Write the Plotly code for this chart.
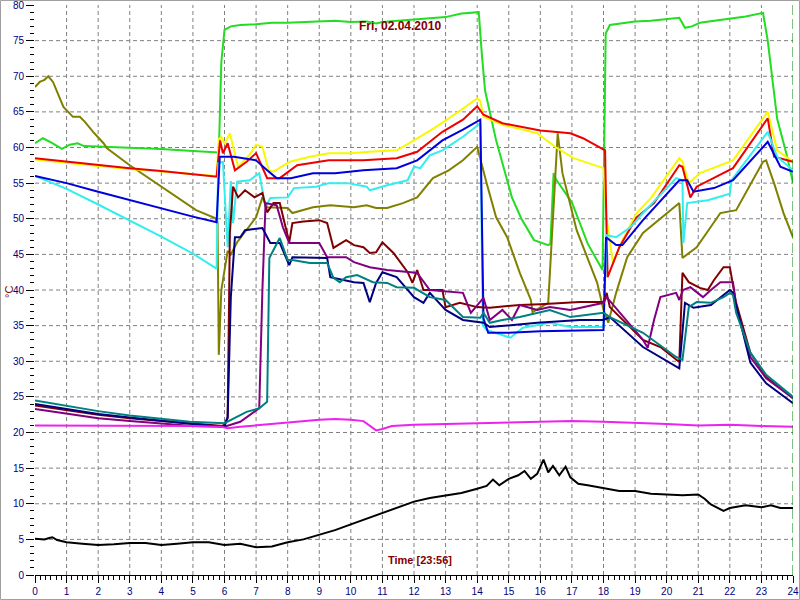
import plotly.graph_objects as go

# ---------------- data (hours, °C) ----------------
green_t = [0, 0.25, 0.55, 0.85, 1.1, 1.35, 1.55, 2.3, 3, 4, 5, 5.82, 5.9, 6.0, 6.2, 6.5, 7, 7.5, 8, 8.5,
           9, 9.5, 10, 10.5, 10.8, 11, 11.5, 12, 12.5, 13, 13.5, 13.9, 14.05, 14.15, 14.25, 14.6, 15.1, 15.4, 15.8, 16.25,
           16.32, 16.42, 16.5, 17.0, 17.5, 17.97, 18.07, 18.2, 18.6, 19, 19.5, 20, 20.4, 20.58, 20.8, 21.05, 21.5, 22.1, 22.5, 23.05,
           23.2, 23.5, 23.8, 24]
green_v = [60.6, 61.3, 60.6, 59.8, 60.4, 60.6, 60.2, 60.1, 60, 59.8, 59.5, 59.3, 72, 76.5, 77, 77.2, 77.3, 77.5, 77.5, 77.6,
           77.8, 77.8, 77.6, 77.7, 77.4, 77.6, 77.8, 78, 78.1, 78.3, 78.8, 78.9, 79, 73, 68, 61, 53, 50, 47, 46.3,
           46.5, 56.4, 55.5, 52.3, 46.5, 42.8, 76, 77.2, 77.5, 77.7, 77.8, 78, 78.2, 76.8, 77, 77.5, 77.8, 78.2, 78.4, 78.9,
           75, 64, 59, 55]

olive_t = [0, 0.15, 0.3, 0.42, 0.57, 0.73, 0.9, 1.2, 1.42, 1.58, 1.84, 2.17, 2.28, 3.0, 4.0, 5.1, 5.7, 5.78, 5.82, 5.9,
           6.1, 6.2, 6.4, 7.0, 7.2, 7.35, 8.0, 8.15, 8.8, 9.35, 10.1, 10.5, 10.8, 11.15, 11.65, 12.1, 12.6, 13.1, 13.55, 14.0,
           14.3, 14.6, 14.95, 15.35, 15.7, 15.75, 16.25, 16.55, 16.7, 17.15, 17.8, 18.0, 18.15, 18.4, 18.75, 19.25, 20.4, 20.5, 20.95, 21.7,
           22.2, 23.05, 23.15, 23.4, 23.7, 24]
olive_v = [68.5, 69.2, 69.5, 70, 69.2, 67.4, 65.7, 64.3, 64.3, 63.6, 62.2, 60.6, 59.9, 57.5, 54.5, 51.2, 50.1, 49.5, 30.9, 40,
           45.5, 45, 46.7, 50.2, 53, 51.6, 51.5, 50.8, 51.6, 51.9, 51.6, 51.9, 51.5, 51.5, 52.2, 53, 55.7, 56.8, 58.2, 60.1,
           55, 50.2, 47.4, 42.4, 38.6, 36.9, 38.2, 62, 56.4, 48.4, 41, 37.2, 35.4, 39.6, 44.6, 48, 52.2, 44.5, 46, 50.8,
           51.2, 58, 58.2, 55, 50.8, 47.4]

yellow_t = [0, 1, 2, 3, 4, 5, 5.75, 5.82, 5.9, 6.0, 6.17, 6.43, 6.8, 7.0, 7.2, 7.4, 7.55, 8.07, 8.7, 9.3,
            10, 10.6, 11.45, 12, 12.7, 13.5, 14.0, 14.1, 14.2, 14.8, 15.9, 16.5, 17.05, 18.0, 18.1, 18.3, 18.6, 19.05, 19.5, 20.4,
            20.5, 20.7, 21.05, 22.1, 23.2, 23.5, 24]
yellow_v = [58.3, 57.8, 57.4, 57, 56.6, 56.3, 56, 61.2, 61.5, 60.5, 62, 57.3, 59, 60.4, 60.1, 56.8, 56.6, 58, 58.7, 59.2,
            59.2, 59.4, 59.6, 61, 62.9, 65.3, 66.9, 66.5, 64.3, 63.2, 62, 60, 58.5, 57.1, 50, 43.8, 47, 50.8, 52.9, 58.5,
            58, 55, 56.4, 58.2, 65, 59.6, 58]

red_t = [0, 1, 2, 3, 4, 5, 5.75, 5.86, 5.95, 6.1, 6.33, 6.7, 7.0, 7.35, 7.75, 8.3, 9.3, 10.4, 11.45, 12.1,
         12.9, 13.55, 14.0, 14.2, 14.8, 16.0, 16.95, 17.35, 18.05, 18.09, 18.13, 18.5, 19.05, 19.6, 20.4, 20.5, 20.75, 20.95, 22.1, 23.2,
         23.4, 24]
red_v = [58.5, 58, 57.5, 57.1, 56.7, 56.3, 55.9, 61, 59.2, 60.6, 56.8, 58, 59.2, 55.7, 55.7, 57.5, 58.2, 58.2, 58.5, 59.4,
         62.2, 63.9, 65.8, 64.6, 63.4, 62.4, 62, 61.3, 59.6, 50, 41.8, 46, 50.2, 52.2, 57.5, 57.3, 53, 54.5, 57.1, 64.1,
         58.7, 58]

blue_t = [0, 1, 2, 3, 4, 5, 5.75, 5.85, 6.3, 7.0, 7.35, 7.65, 8.1, 8.8, 9.5, 10.4, 11.45, 12.1, 12.9, 13.55,
          14.1, 14.2, 14.35, 15, 16, 17, 18.0, 18.08, 18.4, 18.6, 19.25, 20.4, 20.65, 20.85, 21.5, 22.1, 23.2, 23.6, 24]
blue_v = [56, 55, 53.8, 52.6, 51.4, 50.3, 49.5, 58.7, 58.7, 58.2, 56.8, 55.7, 55.7, 56.4, 56.4, 56.8, 57.1, 58.2, 61, 62.5,
          63.9, 36, 34, 34, 34.2, 34.3, 34.4, 47.4, 46.3, 46.3, 49.8, 55.4, 55.4, 53.8, 54.3, 55.4, 60.8, 57.3, 56.6]

cyan_t = [0, 1, 2, 3, 4, 5, 5.75, 5.8, 5.95, 6.1, 6.2, 6.27, 6.4, 6.8, 7.1, 7.3, 7.45, 8.0, 8.2, 8.9,
          9.3, 9.9, 10.5, 10.6, 11.15, 11.8, 12.0, 12.2, 12.5, 12.9, 13.55, 14.1, 14.18, 14.3, 15.05, 15.45, 16.3, 16.95, 18.0, 18.1,
          18.4, 18.85, 19.25, 20.3, 20.5, 20.53, 20.65, 21.3, 22.0, 22.05, 23.2, 23.5, 24]
cyan_v = [56, 54.2, 52, 49.8, 47.5, 45.1, 43, 57.8, 58, 46, 55.3, 49.4, 55.2, 55.4, 56.4, 51.6, 52.9, 53, 54.3, 54.5,
          55, 55, 54.5, 54, 54.7, 55.4, 57.3, 57.1, 58.9, 59.6, 61.5, 63.4, 35, 34.4, 33.3, 34.7, 35.4, 34.8, 34.8, 47.7,
          47.4, 48.8, 50.8, 55.7, 55.4, 46.6, 52.2, 52.6, 53.5, 55.4, 62.2, 58.7, 56.8]

maroon_t = [0, 1, 2, 3, 4, 5, 5.95, 6.1, 6.17, 6.27, 6.43, 6.65, 6.95, 7.2, 7.35, 7.55, 7.75, 8.05, 8.15, 8.5,
            9.0, 9.25, 9.45, 9.85, 10.1, 10.4, 10.6, 10.8, 11.0, 11.35, 11.8, 11.95, 12.1, 12.3, 12.9, 13.0, 13.45, 14.0, 14.4, 14.8,
            15.35, 16.0, 16.95, 17.25, 18.0, 18.1, 18.2, 19.25, 19.8, 20.4, 20.5, 20.7, 21.05, 21.3, 21.5, 21.8, 22.0, 22.1, 22.2, 22.65,
            23.15, 24]
maroon_v = [23.8, 23.1, 22.5, 22.0, 21.6, 21.3, 20.9, 22, 48, 54.5, 53, 54, 53, 53.6, 50.9, 52.2, 52.2, 46.7, 49.4, 49.6,
            49.8, 49.4, 45.9, 47, 46.3, 46, 45.2, 45.3, 46.7, 45.2, 42.5, 41, 42.8, 40, 40, 37.6, 38.2, 37.6, 37.5, 37.7,
            37.9, 38, 38.2, 38.3, 38.3, 39.6, 37.6, 33, 32, 29.9, 42.4, 41.1, 40.3, 40, 41.4, 43.2, 43.2, 40.4, 38.2, 31.2,
            27.8, 24.8]

purple_t = [0, 1, 2, 3, 4, 5, 6.0, 6.5, 7.1, 7.2, 7.3, 7.65, 7.85, 8.05, 9.0, 9.25, 9.85, 10.1, 10.6, 11.15,
            11.9, 12.1, 12.5, 13.15, 13.55, 13.8, 14.2, 14.4, 14.8, 15.1, 15.35, 15.9, 16.3, 16.95, 18.0, 18.1, 19.25, 19.4, 19.6, 19.8,
            20.3, 20.4, 20.52, 20.75, 21.15, 21.4, 21.7, 22.1, 22.2, 22.65, 23.15, 24]
purple_v = [23.3, 22.6, 22.0, 21.6, 21.2, 20.9, 20.8, 21.5, 23.4, 40, 52.2, 51.9, 48.8, 46.6, 46.6, 44.6, 44.6, 43.9, 43.2, 42.8,
            42.5, 42.4, 40, 39.7, 39.6, 36.8, 38.9, 35.8, 37.2, 35.8, 37.9, 37.2, 37.6, 37.2, 38.2, 39, 33, 31.9, 35.8, 39,
            39.6, 38.6, 40, 40.4, 39, 40, 41.1, 41.1, 37.6, 30.6, 27.6, 24.8]

navy_t = [0, 1, 2, 3, 4, 5, 6.0, 6.1, 6.2, 6.33, 6.5, 6.65, 7.2, 7.45, 7.75, 8.05, 8.15, 8.8, 9.25, 9.35,
          10.1, 10.4, 10.6, 10.8, 11.0, 11.45, 12.0, 12.3, 12.5, 13.0, 13.55, 14.2, 14.4, 15.9, 17.25, 18.0, 18.2, 19.25, 20.4, 20.58,
          20.85, 21.4, 21.7, 22.0, 22.1, 22.65, 23.15, 24]
navy_v = [24, 23.3, 22.6, 22.1, 21.6, 21.2, 20.8, 22.2, 39, 47.4, 47.4, 48.4, 48.7, 46.6, 46.6, 43.5, 44.6, 44.6, 44.5, 41.8,
          41.1, 41, 38.3, 41, 42.5, 41.8, 39, 38.2, 39.6, 37.2, 35.8, 35.4, 34.8, 35.4, 35.8, 35.8, 36.2, 32, 29, 38.2,
          37.5, 37.9, 39, 40, 39.6, 29.8, 26.9, 24.1]

teal_t = [0, 1, 2, 3, 4, 4.9, 6.0, 6.4, 6.7, 7.1, 7.25, 7.35, 7.42, 7.75, 8.0, 8.15, 8.7, 9.25, 9.45, 9.65,
          9.85, 10.2, 10.7, 11.15, 11.45, 12.0, 12.5, 13.0, 13.55, 14.1, 14.2, 14.4, 14.8, 15.35, 16.3, 16.95, 18.0, 18.2, 19.25, 20.3,
          20.5, 20.7, 20.95, 21.4, 21.8, 22.0, 22.1, 22.2, 22.65, 23.15, 24]
teal_v = [24.5, 23.7, 23.0, 22.4, 21.9, 21.5, 21.3, 22.2, 22.9, 23.4, 23.9, 24.3, 44.5, 47.3, 44.2, 44.2, 43.8, 43.8, 41.7, 41.1,
          41.8, 42.1, 41.1, 41, 40.4, 40.3, 39, 38.6, 36.2, 36.1, 36.8, 35.4, 35.8, 36.2, 37.2, 36.2, 36.8, 36.2, 34, 30.6,
          30.2, 37.6, 38.3, 38.2, 39, 39.6, 39.3, 36.8, 31.2, 28.1, 25]

magenta_t = [0, 1, 2, 3, 4, 5, 5.9, 6.1, 6.5, 7, 7.5, 8, 8.5, 9, 9.5, 10, 10.4, 10.6, 10.8, 11.0,
             11.3, 12, 13, 14, 15, 16, 17, 18, 19, 20, 21, 22, 23, 24]
magenta_v = [21, 21, 21, 21, 21, 20.9, 20.8, 20.6, 20.8, 21.0, 21.2, 21.5, 21.7, 21.8, 21.9, 21.8, 21.6, 20.9, 20.3, 20.5,
             20.9, 21.1, 21.2, 21.3, 21.4, 21.5, 21.6, 21.5, 21.4, 21.2, 21.0, 21.1, 20.9, 20.8]

black_t = [0, 0.3, 0.45, 0.55, 0.7, 1.0, 1.5, 2.0, 2.5, 3.0, 3.5, 4.0, 4.5, 5.0, 5.5, 6.0, 6.5, 7.0, 7.5, 8.0,
           8.5, 9.0, 9.5, 10.0, 10.5, 11.0, 11.5, 12.0, 12.5, 13.0, 13.5, 14.0, 14.3, 14.5, 14.7, 15.0, 15.3, 15.5, 15.7, 15.9,
           16.1, 16.25, 16.4, 16.6, 16.8, 16.95, 17.2, 17.5, 18.0, 18.5, 19.0, 19.5, 20.0, 20.5, 21.0, 21.2, 21.4, 21.8, 22.0, 22.5,
           23.0, 23.3, 23.6, 24]
black_v = [5.1, 5.0, 5.2, 5.3, 4.9, 4.6, 4.4, 4.2, 4.3, 4.5, 4.5, 4.2, 4.4, 4.6, 4.6, 4.2, 4.4, 3.9, 4.0, 4.6,
           5.0, 5.6, 6.3, 7.1, 7.9, 8.8, 9.6, 10.3, 10.8, 11.2, 11.5, 12.1, 12.5, 13.4, 12.6, 13.5, 14.0, 14.6, 13.5, 14.2,
           16.2, 14.4, 15.3, 14.0, 15.2, 13.7, 12.8, 12.6, 12.2, 11.8, 11.8, 11.4, 11.3, 11.2, 11.3, 10.7, 9.9, 9.0, 9.4, 9.8,
           9.5, 9.8, 9.4, 9.4]

title_text = "Fri, 02.04.2010"
x_title = "Time [23:56]"
y_title = "°C"
x_ticks = list(range(0, 25))
y_ticks = list(range(0, 81, 5))
x_grid = list(range(1, 24))          # inner vertical grid lines (hours)
y_grid = list(range(5, 80, 5))       # inner horizontal grid lines (°C)

series = [
    (green_t, green_v, "#22dd22"),
    (olive_t, olive_v, "#808000"),
    (yellow_t, yellow_v, "#f8f800"),
    (red_t, red_v, "#ee0000"),
    (cyan_t, cyan_v, "#33eeee"),
    (blue_t, blue_v, "#0000dd"),
    (maroon_t, maroon_v, "#800000"),
    (purple_t, purple_v, "#800080"),
    (navy_t, navy_v, "#000080"),
    (teal_t, teal_v, "#008080"),
    (magenta_t, magenta_v, "#ee22ee"),
    (black_t, black_v, "#000000"),
]

fig = go.Figure()
for t, v, c in series:
    assert len(t) == len(v), (c, len(t), len(v))
    fig.add_trace(go.Scatter(x=t, y=v, mode="lines", line=dict(color=c, width=2), hoverinfo="skip"))

W, H = 800, 600
ml, mr, mt, mb = 35, 7, 5, 25
pw, ph = W - ml - mr, H - mt - mb

def px(xp):
    return (xp - ml) / pw

def py(yp):
    return (H - mb - yp) / ph

tickfont = dict(family="Liberation Sans, Arial, sans-serif", size=10, color="#000080")
grid_line = dict(color="#808080", width=1, dash="4px,3px")

shapes = []
for g in x_grid:
    shapes.append(dict(type="line", xref="x", yref="y", x0=g, x1=g, y0=0, y1=80,
                       line=grid_line, layer="below"))
for g in y_grid:
    shapes.append(dict(type="line", xref="x", yref="y", x0=0, x1=24, y0=g, y1=g,
                       line=grid_line, layer="below"))
shapes.append(dict(type="line", x0=24, x1=24, xref="x", y0=0, y1=1, yref="paper",
                   line=dict(color="#008000", width=1, dash="10px,4px")))
shapes.append(dict(type="rect", xref="paper", yref="paper",
                   x0=px(0.5), x1=px(799.5), y0=py(599.5), y1=py(0.5),
                   line=dict(color="#a0a0a0", width=1), fillcolor="rgba(0,0,0,0)"))

fig.update_layout(
    width=W, height=H,
    margin=dict(l=ml, r=mr, t=mt, b=mb, pad=0),
    paper_bgcolor="white", plot_bgcolor="white",
    showlegend=False,
    xaxis=dict(range=[0, 24], tickvals=x_ticks, ticktext=[str(v) for v in x_ticks],
               ticks="outside", ticklen=7, tickcolor="black", tickwidth=1,
               showline=True, linecolor="black", linewidth=1, zeroline=False, showgrid=False,
               tickfont=tickfont, automargin=False, ticklabeloverflow="allow",
               minor=dict(dtick=1 / 6, tick0=0, ticks="outside", ticklen=4, tickcolor="black", showgrid=False)),
    yaxis=dict(range=[0, 80], tickvals=y_ticks, ticktext=[str(v) for v in y_ticks],
               ticks="outside", ticklen=8, tickcolor="black", tickwidth=1,
               showline=False, zeroline=False, showgrid=False, tickfont=tickfont, automargin=False,
               ticklabeloverflow="allow",
               minor=dict(dtick=1, tick0=0, ticks="outside", ticklen=4, tickcolor="black", showgrid=False)),
    annotations=[
        dict(text="<b>" + title_text + "</b>", x=px(400), y=py(17), xref="paper", yref="paper",
             showarrow=False, font=dict(family="Liberation Sans, Arial, sans-serif", size=12, color="#800000")),
        dict(text="<b>" + x_title + "</b>", x=px(420), y=py(568), xref="paper", yref="paper",
             showarrow=False, font=dict(family="Liberation Sans, Arial, sans-serif", size=11, color="#800000")),
        dict(text=y_title, x=px(2), y=py(292), xref="paper", yref="paper", textangle=-90,
             xanchor="left", showarrow=False, borderpad=0,
             font=dict(family="Liberation Sans, Arial, sans-serif", size=11, color="#800000")),
    ],
    shapes=shapes,
)

fig.write_html("out.html", config={"displayModeBar": False},
               post_script="document.body.style.margin='0';document.body.style.overflow='hidden';")
